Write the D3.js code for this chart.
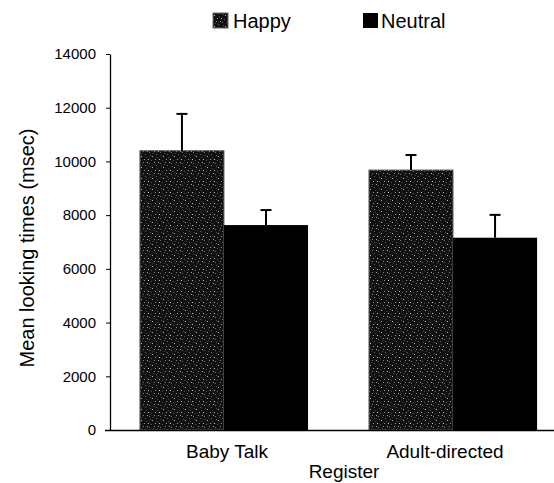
<!DOCTYPE html>
<html><head><meta charset="utf-8">
<script src="https://cdn.jsdelivr.net/npm/d3@7"></script>
<style>body{margin:0;background:#fff}svg{display:block}text{font-family:Arial,"Liberation Sans",sans-serif;fill:#000}</style>
</head><body>
<script>
const categories = ["Baby Talk", "Adult-directed"];
const seriesNames = ["Happy", "Neutral"];
const happyValues = [10400, 9680];
const happyErrors = [1370, 560];
const neutralValues = [7630, 7160];
const neutralErrors = [560, 850];
const yTicks = [0, 2000, 4000, 6000, 8000, 10000, 12000, 14000];

const W = 554, H = 483;
const svg = d3.select("body").append("svg").attr("width", W).attr("height", H);

const defs = svg.append("defs");
const pat = defs.append("pattern").attr("id", "speckle").attr("patternUnits", "userSpaceOnUse")
  .attr("width", 11).attr("height", 11);
pat.append("rect").attr("width", 11).attr("height", 11).attr("fill", "#111");
[[1,2,"#bbb"],[5,0,"#666"],[8,5,"#ccc"],[3,8,"#888"],[0,6,"#555"],[6,3,"#444"],[4,5,"#999"],[9,9,"#777"],[10,1,"#555"],[7,8,"#aaa"],[2,10,"#444"]].forEach(([x,y,c])=>{
  pat.append("rect").attr("x", x).attr("y", y).attr("width", 1).attr("height", 1).attr("fill", c);
});

const axisX = 110;
const y = d3.scaleLinear().domain([0, 14000]).range([430, 54]);
const x0 = d3.scaleBand().domain(categories).range([109, 568]).paddingInner(0.266).paddingOuter(0.135);
const x1 = d3.scaleBand().domain(seriesNames).range([0, x0.bandwidth()]);

const data = categories.map((c, i) => ({
  cat: c,
  vals: [
    {s: "Happy", v: happyValues[i], e: happyErrors[i]},
    {s: "Neutral", v: neutralValues[i], e: neutralErrors[i]}
  ]
}));

const fills = {Happy: "url(#speckle)", Neutral: "#000"};

const g = svg.append("g");
const groups = g.selectAll("g.grp").data(data).enter().append("g")
  .attr("transform", d => `translate(${x0(d.cat)},0)`);

groups.selectAll("rect").data(d => d.vals).enter().append("rect")
  .attr("x", d => x1(d.s))
  .attr("y", d => y(d.v))
  .attr("width", x1.bandwidth())
  .attr("height", d => y(0) - y(d.v))
  .attr("fill", d => fills[d.s])
  .attr("stroke", d => d.s === "Happy" ? "#666" : "none")
  .attr("stroke-width", 1);

// error bars (upper only)
const eb = groups.selectAll("g.err").data(d => d.vals).enter().append("g");
eb.append("line")
  .attr("x1", d => x1(d.s) + x1.bandwidth() / 2)
  .attr("x2", d => x1(d.s) + x1.bandwidth() / 2)
  .attr("y1", d => y(d.v))
  .attr("y2", d => y(d.v + d.e))
  .attr("stroke", "#000").attr("stroke-width", 2);
eb.append("line")
  .attr("x1", d => x1(d.s) + x1.bandwidth() / 2 - 5.5)
  .attr("x2", d => x1(d.s) + x1.bandwidth() / 2 + 5.5)
  .attr("y1", d => y(d.v + d.e))
  .attr("y2", d => y(d.v + d.e))
  .attr("stroke", "#000").attr("stroke-width", 2);

// y axis
const yAxis = d3.axisLeft(y).tickValues(yTicks).tickSize(4).tickSizeOuter(0).tickPadding(10).tickFormat(d3.format("d"));
const ya = svg.append("g").attr("transform", `translate(${axisX},0)`).call(yAxis);
ya.select(".domain").attr("stroke", "#000").attr("stroke-width", 1.3);
ya.selectAll(".tick line").attr("stroke", "#000");
ya.selectAll(".tick text").attr("font-size", 15).attr("font-family", "Arial, 'Liberation Sans', sans-serif").attr("fill", "#000");

// x baseline
svg.append("line").attr("x1", 105).attr("x2", W).attr("y1", y(0) + 0.5).attr("y2", y(0) + 0.5)
  .attr("stroke", "#000").attr("stroke-width", 1.5);

// category labels
const catCenters = [227, 445];
svg.selectAll("text.cat").data(categories).enter().append("text")
  .attr("x", (d, i) => catCenters[i])
  .attr("y", 458).attr("text-anchor", "middle").attr("font-size", 19).text(d => d);

svg.append("text").attr("x", 344).attr("y", 478).attr("text-anchor", "middle").attr("font-size", 19).text("Register");

svg.append("text").attr("transform", "translate(34,248) rotate(-90)").attr("text-anchor", "middle")
  .attr("font-size", 20).text("Mean looking times (msec)");

// legend
const legendX = [213, 363];
const lg = svg.selectAll("g.leg").data(seriesNames).enter().append("g")
  .attr("transform", (d, i) => `translate(${legendX[i]},13)`);
lg.append("rect").attr("width", 15).attr("height", 15).attr("fill", d => fills[d])
  .attr("stroke", d => d === "Happy" ? "#666" : "none");
lg.append("text").attr("x", d => d === "Happy" ? 20 : 18).attr("y", 15).attr("font-size", 20).text(d => d);
</script>
</body></html>
